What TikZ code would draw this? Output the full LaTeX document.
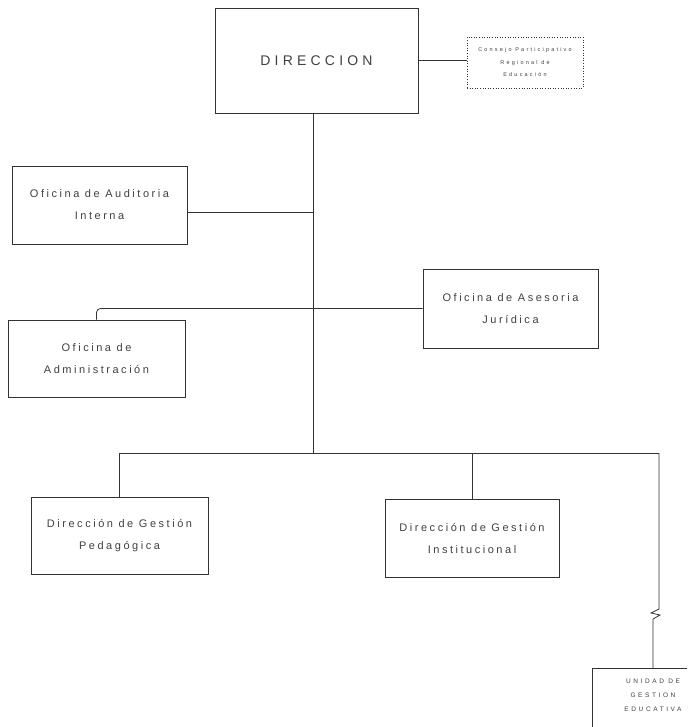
\documentclass[tikz,border=0pt]{standalone}
\usepackage{fontspec}
\newfontfamily\orgfont[LetterSpace=23]{Liberation Sans}
\newfontfamily\capfont[LetterSpace=30]{Liberation Sans}
\newfontfamily\tinyfont[LetterSpace=40]{Liberation Sans}

\begin{document}
\begin{tikzpicture}[x=1pt, y=-1pt, color=black!80, line width=0.8pt,
    font=\orgfont\fontsize{11}{22}\selectfont]
    \tikzset{
        unit/.style={draw, rectangle, inner sep=0pt, align=center, text=black!75},
        council/.style={unit, dotted, line width=0.6pt, font=\tinyfont\fontsize{5.5}{12.5}\selectfont}
    }
    \useasboundingbox (0,0) rectangle (687,727);
    \clip (0,0) rectangle (687,727);
        \node[unit, minimum width=203, minimum height=105, font=\capfont\fontsize{14}{16}\selectfont] (dir) at (316.5,60.5) {DIRECCION};
        \node[council, minimum width=116, minimum height=51] (copare) at (525,62.5) {Consejo Participativo\\Regional de\\Educación};
        \node[unit, minimum width=175, minimum height=78] (audit) at (99.5,205) {Oficina de Auditoria\\Interna};
        \node[unit, minimum width=175, minimum height=79] (legal) at (510.5,308.5) {Oficina de Asesoria\\Jurídica};
        \node[unit, minimum width=177, minimum height=77] (admin) at (96.5,358.5) {Oficina de\\Administración};
        \node[unit, minimum width=177, minimum height=77] (peda) at (119.5,535.5) {Dirección de Gestión\\Pedagógica};
        \node[unit, minimum width=174, minimum height=78] (inst) at (472,538) {Dirección de Gestión\\Institucional};
        \node[unit, minimum width=122, minimum height=80, font=\tinyfont\fontsize{6.5}{14}\selectfont, anchor=north] (ugel) at (653,668) {UNIDAD DE\\GESTION\\EDUCATIVA\\[12pt]};
        \coordinate (bus) at (313,453);
        \coordinate (busR) at (659,453);
        \coordinate (brk) at (653,619);
        \draw (dir.east) -- (dir.east -| copare.west);
        \draw (dir.south -| bus) -- (bus);
        \draw (audit.east |- 0,212) -- (bus |- 0,212);
        \draw[rounded corners=4pt] (admin.north) |- (legal.west);
        \draw (peda.north) |- (busR);
        \draw (inst.north) -- (inst.north |- bus);
        \draw (busR) -- ++(0,156) -- ++(-8,4) -- ++(9,2) -- (brk) -- (ugel.north);
    \end{tikzpicture}
\end{document}
